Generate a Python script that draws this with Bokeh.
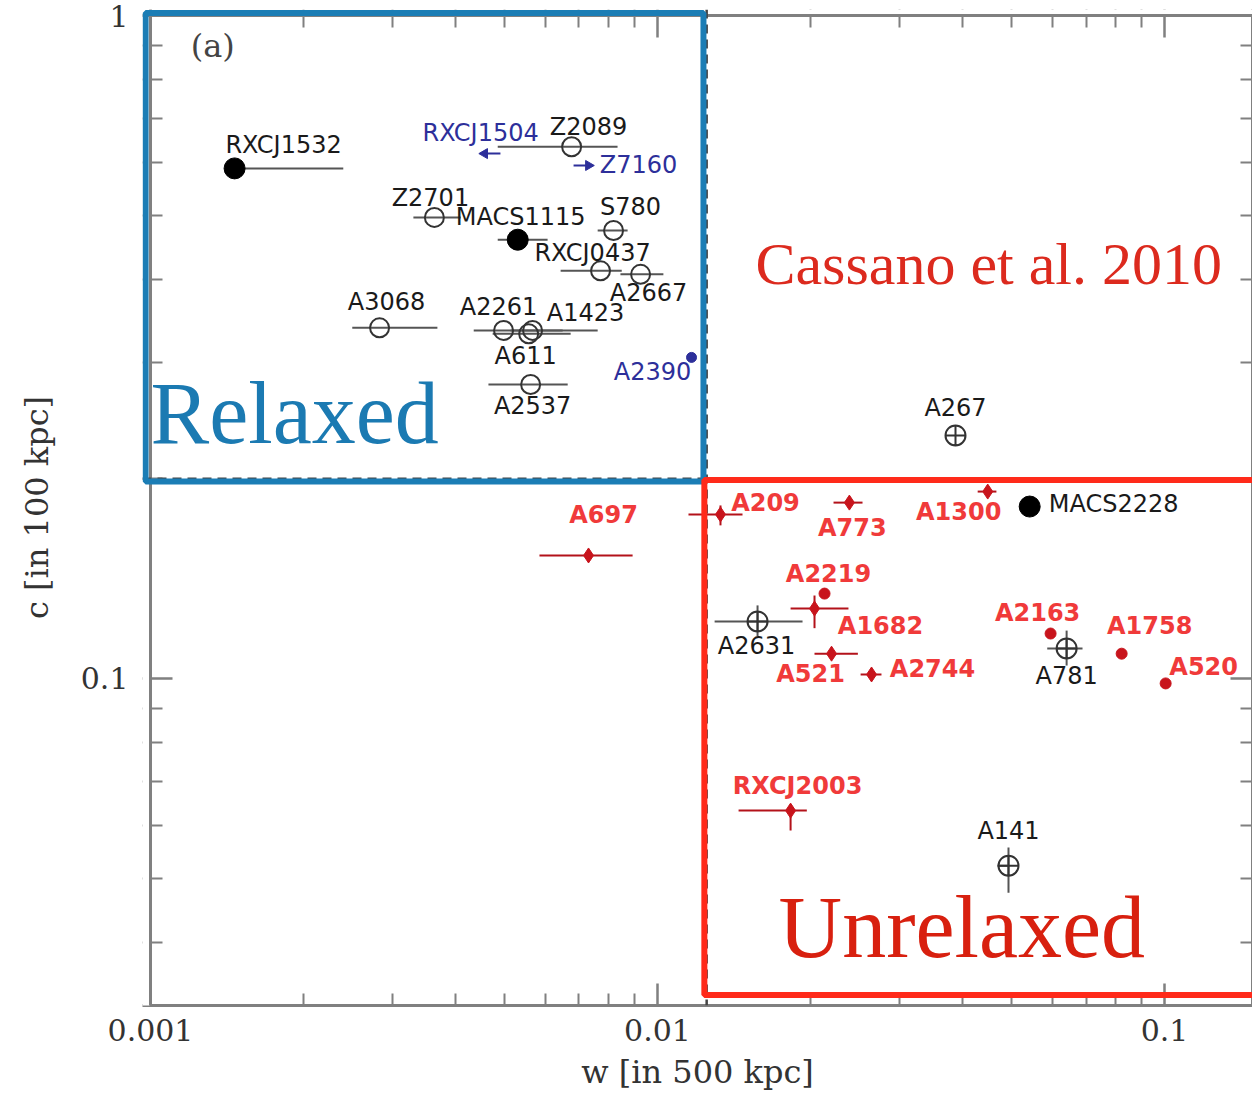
import numpy as np
from bokeh.plotting import figure
from bokeh.models import (Range1d, FixedTicker, LogAxis, BoxAnnotation, Span, Label,
                          ColumnDataSource, CustomJSTickFormatter)
from bokeh.core.properties import value
from bokeh.embed import file_html
from bokeh.resources import INLINE

# ---------------- data ----------------
# relaxed-looking open circles (black)
open_names = ["Z2089", "Z2701", "S780", "RXCJ0437", "A2667", "A3068", "A2261", "A1423", "A611", "A2537"]
open_w = [0.00677, 0.00363, 0.00819, 0.00772, 0.00926, 0.00283, 0.00497, 0.00567, 0.00557, 0.00562]
open_c = [0.634, 0.496, 0.474, 0.412, 0.407, 0.338, 0.335, 0.335, 0.331, 0.2776]
open_wlo = [0.00484, 0.0033, 0.00762, 0.00644, 0.00845, 0.0025, 0.00434, 0.00513, 0.00473, 0.00464]
open_whi = [0.00834, 0.00409, 0.00873, 0.0085, 0.01027, 0.00368, 0.0065, 0.00762, 0.00674, 0.00665]

# open circles with cross (black)
cross_names = ["A267", "A2631", "A781", "A141"]
cross_w = [0.0387, 0.01575, 0.0641, 0.04923]
cross_c = [0.2326, 0.1219, 0.111, 0.0522]
cross_wlo = [0.0387, 0.01296, 0.0587, 0.0468]
cross_whi = [0.0387, 0.01932, 0.0689, 0.04923]
cross_clo = [0.2326, 0.1159, 0.1046, 0.0475]
cross_chi = [0.2326, 0.1289, 0.1181, 0.0556]

# filled black circles
fill_names = ["RXCJ1532", "MACS1115", "MACS2228"]
fill_w = [0.001465, 0.0053, 0.0542]
fill_c = [0.588, 0.459, 0.1817]
fill_wlo = [0.001465, 0.00484, 0.0542]
fill_whi = [0.0024, 0.00607, 0.0542]

# red (radio halo) clusters with error bars
red_names = ["A697", "A209", "A773", "A1300", "A1682", "A521", "A2744", "RXCJ2003"]
red_w = [0.00731, 0.01331, 0.0239, 0.0448, 0.0204, 0.02204, 0.02643, 0.0183]
red_c = [0.1533, 0.1768, 0.1842, 0.1914, 0.1275, 0.109, 0.1014, 0.0632]
red_wlo = [0.00585, 0.01151, 0.02224, 0.0428, 0.0183, 0.0204, 0.02515, 0.01445]
red_whi = [0.00893, 0.01471, 0.02537, 0.0466, 0.0238, 0.02484, 0.02765, 0.0197]
red_clo = [0.1533, 0.1702, 0.1842, 0.1914, 0.1191, 0.1073, 0.1014, 0.059]
red_chi = [0.1533, 0.1824, 0.1842, 0.1914, 0.1334, 0.1111, 0.1014, 0.0632]

# red dots without visible bars
rdot_names = ["A2219", "A2163", "A1758", "A520"]
rdot_w = [0.02135, 0.0596, 0.0823, 0.1005]
rdot_c = [0.1343, 0.1169, 0.109, 0.0983]

# blue clusters (limits / mini halo)
blue_names = ["RXCJ1504", "Z7160", "A2390"]
blue_w = [0.00456, 0.00731, 0.01167]
blue_c = [0.619, 0.594, 0.305]
blue_tail = [0.0049, 0.00683, 0.01167]

# thresholds
w_cut = 0.0125
c_cut = 0.2002

# axis limits of the plotted box
w_min, w_max = 0.001, 0.1491
c_min, c_max = 0.03212, 1.0

# tick positions
x_major = [0.001, 0.01, 0.1]
x_minor = [0.002, 0.003, 0.004, 0.005, 0.006, 0.007, 0.008, 0.009,
           0.02, 0.03, 0.04, 0.05, 0.06, 0.07, 0.08, 0.09]
y_major = [0.1, 1.0]
y_minor = [0.04, 0.05, 0.06, 0.07, 0.08, 0.09, 0.2, 0.3, 0.4, 0.5, 0.6, 0.7, 0.8, 0.9]

# label offsets in pixels (dx, dy; dy positive = downwards)
label_offsets = {
    "RXCJ1532": (49, -23), "Z2089": (17, -20), "RXCJ1504": (-4, -21), "Z7160": (50, 0),
    "Z2701": (-4, -19), "MACS1115": (3, -23), "S780": (17, -23), "RXCJ0437": (-8, -18),
    "A2667": (8, 19), "A3068": (7, -26), "A2261": (-5, -23), "A1423": (53, -17),
    "A611": (-3, 22), "A2537": (2, 21), "A2390": (-39, 15), "A267": (0, -27),
    "MACS2228": (84, -3), "A2631": (-1, 25), "A781": (0, 28), "A141": (0, -35),
    "A697": (15, -40), "A209": (45, -11), "A773": (3, 25), "A1300": (-29, 20),
    "A2219": (4, -20), "A1682": (66, 17), "A521": (-21, 20), "A2744": (61, -5),
    "A2163": (-13, -21), "A1758": (28, -28), "A520": (38, -16), "RXCJ2003": (7, -25),
}

# ---------------- figure ----------------
# the drawing area is a little larger than the axes box (left/top) so that the
# thick blue frame of the "Relaxed" region can be drawn around the axes
pad_left = 10 ** (np.log10(w_min) - 8 / 507)
pad_top = 10 ** (np.log10(c_max) + 6 / 663)

p = figure(width=1252, height=1099, x_axis_type="log", y_axis_type="log",
           x_range=Range1d(pad_left, w_max), y_range=Range1d(c_min, pad_top),
           output_backend="svg", toolbar_location=None, title=None,
           min_border_left=142, min_border_right=0, min_border_top=9, min_border_bottom=94)
p.grid.visible = False
p.outline_line_color = None
p.background_fill_color = "white"
p.border_fill_color = "white"

AX_COL = "#808080"
fmt = CustomJSTickFormatter(code="return tick.toString();")


def style_axis(ax, show_labels, tin=22, tmin=12, line=True):
    ax.axis_line_color = AX_COL if line else None
    ax.axis_line_width = 3
    ax.major_tick_line_color = AX_COL
    ax.minor_tick_line_color = AX_COL
    ax.major_tick_line_width = 2.5
    ax.minor_tick_line_width = 2
    ax.major_tick_in = tin
    ax.major_tick_out = 0
    ax.minor_tick_in = tmin
    ax.minor_tick_out = 0
    if show_labels:
        ax.formatter = fmt
        ax.major_label_text_font = "DejaVu Serif"
        ax.major_label_text_font_size = "30px"
        ax.major_label_text_color = "#333333"
        ax.axis_label_text_font = "DejaVu Serif"
        ax.axis_label_text_font_size = "32px"
        ax.axis_label_text_font_style = "normal"
        ax.axis_label_text_color = "#333333"
    else:
        ax.major_label_text_font_size = "1px"
        ax.major_label_text_alpha = 0
        ax.major_label_standoff = 0


p.xaxis.ticker = FixedTicker(ticks=x_major, minor_ticks=x_minor)
p.yaxis.ticker = FixedTicker(ticks=y_major, minor_ticks=y_minor)
style_axis(p.xaxis[0], True)
style_axis(p.yaxis[0], True, tin=30, tmin=20, line=False)
p.xaxis.axis_label = "w [in 500 kpc]"
p.yaxis.axis_label = "c [in 100 kpc]"
p.xaxis.major_label_standoff = 13
p.xaxis.axis_label_standoff = 9
p.yaxis.major_label_standoff = 14
p.yaxis.axis_label_standoff = 22

top_ax = LogAxis(ticker=FixedTicker(ticks=x_major, minor_ticks=x_minor))
style_axis(top_ax, False, tin=28, tmin=18, line=False)
p.add_layout(top_ax, "above")
right_ax = LogAxis(ticker=FixedTicker(ticks=y_major, minor_ticks=y_minor))
style_axis(right_ax, False)
p.add_layout(right_ax, "right")

# blank strips outside the axes box, then the left / top axis lines
p.add_layout(BoxAnnotation(left=pad_left / 2, right=10 ** (np.log10(w_min) - 1 / 507),
                           bottom=c_min / 2, top=pad_top * 2,
                           fill_color="white", fill_alpha=1, line_alpha=0))
p.add_layout(BoxAnnotation(left=pad_left / 2, right=w_max * 2,
                           bottom=10 ** (np.log10(c_max) + 1 / 663), top=pad_top * 2,
                           fill_color="white", fill_alpha=1, line_alpha=0))
p.add_layout(Span(location=w_min, dimension="height", line_color=AX_COL, line_width=3))
p.add_layout(Span(location=c_max, dimension="width", line_color=AX_COL, line_width=3))

# threshold dashed lines
p.add_layout(Span(location=w_cut, dimension="height", line_color="#444444",
                  line_width=2.5, line_dash="9 6"))
p.add_layout(Span(location=c_cut, dimension="width", line_color="#444444",
                  line_width=2.5, line_dash="9 6"))

ERR_K = "#555555"
ERR_R = "#b3121a"
RED_M = "#c8141c"
BLUE = "#2d2f9a"

# open circles
src_o = ColumnDataSource(dict(w=open_w, c=open_c, lo=open_wlo, hi=open_whi))
p.segment(x0="lo", y0="c", x1="hi", y1="c", source=src_o, line_color=ERR_K, line_width=2)
p.scatter(x="w", y="c", source=src_o, marker="circle", size=19, fill_color=None,
          line_color="#333333", line_width=2)

# crossed circles
src_x = ColumnDataSource(dict(w=cross_w, c=cross_c, wlo=cross_wlo, whi=cross_whi,
                              clo=cross_clo, chi=cross_chi))
p.segment(x0="wlo", y0="c", x1="whi", y1="c", source=src_x, line_color=ERR_K, line_width=2)
p.segment(x0="w", y0="clo", x1="w", y1="chi", source=src_x, line_color=ERR_K, line_width=2)
p.scatter(x="w", y="c", source=src_x, marker="circle_cross", size=20, fill_color=None,
          line_color="#333333", line_width=2)

# filled circles
src_f = ColumnDataSource(dict(w=fill_w, c=fill_c, lo=fill_wlo, hi=fill_whi))
p.segment(x0="lo", y0="c", x1="hi", y1="c", source=src_f, line_color=ERR_K, line_width=2)
p.scatter(x="w", y="c", source=src_f, marker="circle", size=21, fill_color="black",
          line_color="black")

# red with bars
src_r = ColumnDataSource(dict(w=red_w, c=red_c, wlo=red_wlo, whi=red_whi,
                              clo=red_clo, chi=red_chi))
p.segment(x0="wlo", y0="c", x1="whi", y1="c", source=src_r, line_color=ERR_R, line_width=2)
p.segment(x0="w", y0="clo", x1="w", y1="chi", source=src_r, line_color=ERR_R, line_width=2)
p.scatter(x="w", y="c", source=src_r, marker="diamond", size=15, fill_color=RED_M,
          line_color=RED_M)

# red dots
src_d = ColumnDataSource(dict(w=rdot_w, c=rdot_c))
p.scatter(x="w", y="c", source=src_d, marker="circle", size=11, fill_color=RED_M,
          line_color=RED_M)

# blue
src_b = ColumnDataSource(dict(w=blue_w, c=blue_c, t=blue_tail,
                              ang=[np.pi / 2, -np.pi / 2, 0.0],
                              mk=["triangle", "triangle", "circle"]))
p.segment(x0="w", y0="c", x1="t", y1="c", source=src_b, line_color=BLUE, line_width=2)
p.scatter(x="w", y="c", source=src_b, marker="mk", angle="ang", size=10,
          fill_color=BLUE, line_color=BLUE)

# cluster name labels
groups = [
    (open_names, open_w, open_c, "#1a1a1a", "normal"),
    (cross_names, cross_w, cross_c, "#1a1a1a", "normal"),
    (fill_names, fill_w, fill_c, "#1a1a1a", "normal"),
    (red_names, red_w, red_c, "#f03a3a", "bold"),
    (rdot_names, rdot_w, rdot_c, "#f03a3a", "bold"),
    (blue_names, blue_w, blue_c, BLUE, "normal"),
]
for names, ws, cs, col, wt in groups:
    src = ColumnDataSource(dict(w=ws, c=cs, t=names,
                                dx=[label_offsets[n][0] for n in names],
                                dy=[label_offsets[n][1] for n in names]))
    p.text(x="w", y="c", text="t", source=src, x_offset="dx", y_offset="dy",
           text_align="center", text_baseline="middle", text_color=col,
           text_font=value("DejaVu Sans"), text_font_size="24px", text_font_style=wt)

# region boxes
p.add_layout(BoxAnnotation(left=0.000978, right=0.01232, bottom=0.1982, top=1.0087,
                           fill_alpha=0, line_color="#1b7db5", line_alpha=1.0, line_width=6))
p.add_layout(BoxAnnotation(left=0.01237, right=0.2, bottom=0.03332, top=0.1993,
                           fill_alpha=0, line_color="#ff2a1a", line_alpha=1.0, line_width=6))

# text annotations
p.add_layout(Label(x=0.001, y=0.2510, text="Relaxed", text_font="Liberation Serif",
                   text_font_size="88px", text_color="#1b7ab2", text_baseline="alphabetic"))
p.add_layout(Label(x=0.0156, y=0.4225, text="Cassano et al. 2010", text_font="Liberation Serif",
                   text_font_size="60px", text_color="#dc2a1e", text_baseline="alphabetic"))
p.add_layout(Label(x=0.01733, y=0.04212, text="Unrelaxed", text_font="Liberation Serif",
                   text_font_size="88px", text_color="#d8200f", text_baseline="alphabetic"))
p.add_layout(Label(x=0.0012, y=0.901, text="(a)", text_font="DejaVu Serif",
                   text_font_size="32px", text_color="#444444", text_baseline="middle"))

open("out.html", "w").write(file_html(p, INLINE))
